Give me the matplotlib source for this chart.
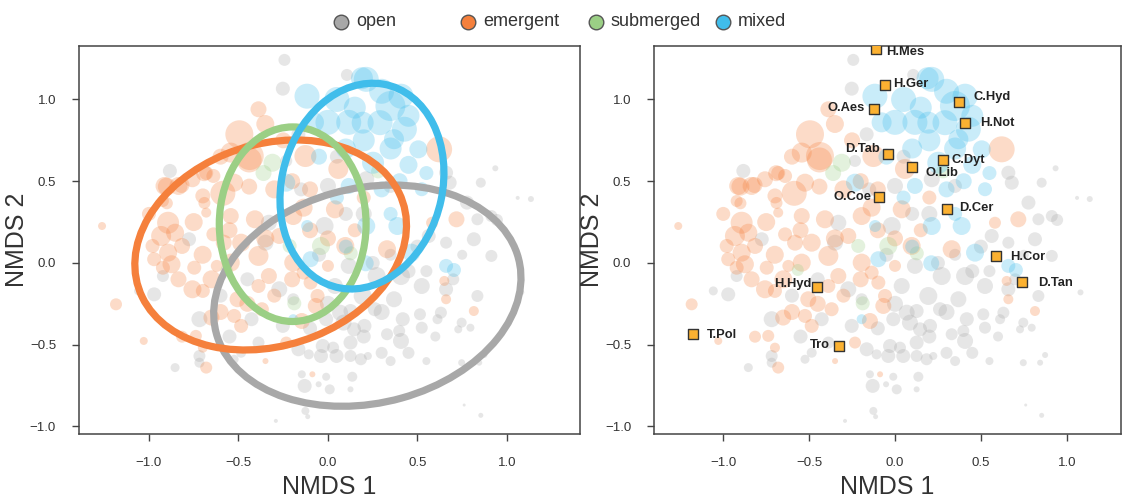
import numpy as np
import matplotlib
matplotlib.use("Agg")
import matplotlib.pyplot as plt
from matplotlib.patches import Ellipse
from matplotlib.lines import Line2D

plt.rcParams["font.family"] = ["Liberation Sans", "DejaVu Sans"]
plt.rcParams["axes.unicode_minus"] = True

# ---- site scores (NMDS1, NMDS2, taxon richness) by habitat type ----
open_x = [-0.243, -0.252, -0.165, -0.233, 0.106, -0.883, -0.776, -0.922, -1.058, -0.971,
          -0.330, 0.000, -0.019, -0.349, 0.116, -0.272, 0.039, -0.194,
          0.214, 0.349, 0.680, 0.854, 0.777, 0.835, 0.913, 0.563, 0.660, 0.815, 0.913,
          0.272, 0.408, 0.524, 0.660, 0.194, 0.369, 0.835,
          0.660, 0.935, 1.134, 1.060, 0.944,
          -0.718, -0.427, -0.252, -0.718, -0.718, -0.854, -0.524, -0.485, -0.291, -0.388,
          -0.010, 0.068, 0.126, 0.087, 0.146, 0.204, 0.262, 0.418, 0.514, 0.524, 0.330,
          0.408, 0.398, 0.631, 0.612, 0.747, 0.728, 0.796,
          -0.165, -0.039, 0.048, -0.029, 0.029, 0.126, 0.126, 0.184, 0.223, -0.107,
          -0.146, -0.010, -0.052, -0.130, 0.010, 0.136, 0.126, -0.126, -0.113,
          0.747, 0.874, 0.845, 0.761, 0.854, 1.080,
          0.250, 0.350, 0.450, 0.550, 0.500, 0.300, 0.200, 0.450, 0.600, 0.700,
          0.750, 0.100, 0.200, -0.050, -0.150, 0.050, 0.350, 0.550, 0.000, -0.100,
          0.300, -0.550, -0.600, -0.450]
open_y = [1.242, 1.066, 0.787, 0.624, 1.150, 0.563, 0.145, -0.080, -0.171, -0.192,
          0.246, 0.471, 0.226, 0.124, -0.018, -0.161, -0.141, -0.222,
          0.512, 0.471, 0.491, 0.491, 0.369, 0.267, 0.287, 0.165, 0.124, 0.145, 0.043,
          -0.080, -0.080, -0.141, -0.161, -0.202, -0.222, -0.202,
          0.552, 0.579, 0.391, 0.398, 0.263,
          -0.344, -0.344, -0.385, -0.569, -0.610, -0.640, -0.589, -0.549, -0.966, -0.487,
          -0.344, -0.304, -0.294, -0.365, -0.406, -0.385, -0.283, -0.344, -0.314, -0.396, -0.436,
          -0.477, -0.416, -0.304, -0.344, -0.365, -0.406, -0.396,
          -0.528, -0.569, -0.569, -0.508, -0.518, -0.487, -0.569, -0.589, -0.569, -0.559,
          -0.681, -0.696, -0.742, -0.752, -0.773, -0.696, -0.773, -0.905, -0.940,
          -0.610, -0.563, -0.610, -0.869, -0.932, -0.180,
          0.000, 0.050, -0.050, -0.050, 0.100, -0.300, -0.450, -0.550, -0.450, -0.100,
          0.050, 0.300, 0.300, 0.050, 0.450, 0.650, -0.600, -0.600, -0.250, -0.400,
          -0.550, -0.450, -0.200, -0.100]
open_rich = [12, 14, 14, 12, 12, 14, 14, 12, 9, 14,
             16, 16, 18, 16, 16, 16, 16, 12,
             16, 14, 14, 10, 14, 12, 12, 14, 12, 14, 12,
             18, 18, 16, 14, 18, 16, 12,
             14, 6, 6, 4, 12,
             16, 14, 14, 12, 10, 9, 9, 10, 4, 12,
             14, 16, 14, 16, 14, 14, 14, 14, 12, 12, 12,
             16, 12, 12, 10, 10, 8, 8,
             14, 14, 14, 14, 12, 14, 12, 12, 8, 10,
             8, 8, 6, 14, 10, 10, 6, 8, 5,
             7, 6, 6, 3, 5, 6,
             14, 12, 14, 12, 14, 16, 14, 12, 10, 12,
             10, 14, 16, 14, 14, 14, 10, 8, 16, 14,
             12, 14, 14, 14]

emergent_x = [-0.388, -0.495, -0.437, -0.543, -0.126, 0.058, 0.621, -0.680,
              -1.262, -0.913, -0.835, -0.757, -0.699, -0.922, -0.680, -0.640,
              -0.893, -0.932, -0.854, -0.980, -0.893, -0.815, -0.640, -0.621, -0.971, -0.874,
              -0.922, -0.747, -0.835, -0.757, -0.699, -1.184,
              -0.524, -0.408, -0.543, -0.194, -0.136, 0.039, -0.582, -0.485, -0.272, 0.097,
              -0.388, -0.194, 0.000, -0.543, -0.330, -0.136, -0.388, -0.097, -0.505, -0.058,
              0.718, 0.582, 0.330, 0.650, 0.660,
              -0.651, -0.524, -0.485, -0.369, -0.815, -0.738, -1.029, -0.699, -0.680, -0.349, -0.233,
              -0.146, -0.068, 0.815, -0.087,
              -0.440, -0.900, -0.818, -0.692, -0.587, -0.440, -0.900, -0.690,
              -0.300, -0.600, -0.200, -0.750, -0.550, -0.350, -0.100, -0.650, -0.450, -0.600,
              -0.300, -0.200, 0.150, 0.000, -1.000, -0.700, -0.250, -0.350, -0.100, 0.200]
emergent_y = [0.940, 0.787, 0.654, 0.675, 0.654, 0.575, 0.695, 0.550,
              0.226, 0.471, 0.471, 0.512, 0.410, 0.379, 0.308, 0.532,
              0.246, 0.165, 0.185, 0.104, 0.063, 0.104, 0.175, -0.018, 0.023, -0.008,
              -0.029, -0.029, -0.100, -0.161, -0.171, -0.253,
              0.491, 0.267, 0.287, 0.287, 0.338, 0.328, 0.124, 0.124, 0.165, 0.104,
              0.043, 0.002, -0.018, 0.002, -0.080, -0.059, -0.141, -0.120, -0.222, -0.202,
              0.267, 0.246, 0.084, -0.110, -0.222,
              -0.334, -0.324, -0.385, -0.283, -0.451, -0.446, -0.477, -0.518, -0.640, -0.600, -0.487,
              -0.355, -0.263, -0.294, -0.681,
              0.630, 0.467, 0.477, 0.549, 0.426, 0.467, 0.365, 0.367,
              0.450, 0.650, 0.500, 0.250, 0.200, 0.150, 0.200, -0.100, -0.250, -0.300,
              -0.200, -0.100, 0.200, 0.150, 0.300, 0.050, 0.750, 0.850, 0.450, 0.400]
emergent_rich = [16, 28, 28, 20, 22, 20, 26, 14,
                 8, 18, 18, 16, 15, 12, 10, 14,
                 22, 20, 18, 14, 18, 16, 14, 12, 14, 18,
                 14, 14, 16, 18, 14, 12,
                 18, 18, 16, 18, 18, 18, 16, 18, 16, 18,
                 20, 18, 12, 18, 16, 14, 14, 14, 16, 14,
                 16, 12, 18, 10, 10,
                 16, 14, 14, 14, 12, 12, 8, 10, 12, 6, 12,
                 16, 16, 10, 6,
                 25, 18, 16, 16, 25, 16, 12, 12,
                 18, 16, 16, 18, 16, 18, 16, 18, 16, 16,
                 14, 16, 14, 16, 14, 18, 16, 18, 16, 14]

submerged_x = [-0.310, -0.214, -0.039, -0.188, -0.566, 0.127, -0.360, 0.280]
submerged_y = [0.613, 0.104, 0.104, -0.247, -0.043, 0.059, 0.550, 0.560]
submerged_rich = [18, 14, 18, 14, 12, 14, 16, 14]

mixed_x = [-0.117, 0.000, 0.116, -0.078, 0.214, 0.349, 0.408, 0.291, 0.427, 0.369,
           0.505, 0.194, 0.252, 0.190, -0.233, -0.116, 0.116, -0.097, 0.524, 0.388,
           0.214, 0.466, 0.660, -0.194, 0.704, 0.211, 0.350, 0.100, 0.400,
           0.050, 0.300, 0.450, 0.150, 0.200, 0.450, 0.300, 0.050, 0.550, -0.050,
           0.350, 0.100]
mixed_y = [1.020, 0.860, 0.860, 0.860, 1.123, 0.960, 1.020, 0.858, 0.818, 0.757,
           0.695, 0.858, 0.613, 1.130, 0.491, 0.226, 0.471, 0.023, 0.451, 0.226,
           0.226, 0.063, -0.018, -0.344, -0.043, -0.002, 0.700, 0.700, 0.500,
           1.000, 1.050, 0.900, 0.950, 0.750, 0.600, 0.450, 0.400, 0.550, 0.650,
           0.300, 0.100]
mixed_rich = [25, 25, 25, 20, 25, 30, 25, 25, 25, 20,
              18, 22, 22, 22, 18, 12, 16, 16, 14, 18,
              18, 18, 14, 10, 14, 16, 22, 20, 16,
              25, 25, 22, 22, 22, 18, 16, 14, 14, 16,
              14, 14]

# ---- 95% ellipses per habitat: centre, axis lengths, rotation ----
ell_cx = [0.22, -0.32, -0.197, 0.19]
ell_cy = [-0.20, 0.11, 0.237, 0.47]
ell_w = [1.75, 1.57, 0.82, 1.27]
ell_h = [1.31, 1.22, 1.19, 0.90]
ell_ang = [17, 24, 0, 79]

# ---- species scores ----
species = ["H.Mes", "H.Ger", "O.Aes", "C.Hyd", "H.Not", "D.Tab", "O.Lib", "C.Dyt",
           "O.Coe", "D.Cer", "H.Cor", "D.Tan", "H.Hyd", "T.Pol", "Tro"]
sp_x = [-0.108, -0.056, -0.123, 0.374, 0.406, -0.040, 0.100, 0.278,
        -0.095, 0.303, 0.587, 0.739, -0.455, -1.177, -0.324]
sp_y = [1.307, 1.089, 0.942, 0.983, 0.854, 0.669, 0.589, 0.628,
        0.403, 0.328, 0.043, -0.117, -0.148, -0.435, -0.505]

habitats = ["open", "emergent", "submerged", "mixed"]
hab_cols = ["#A8A8A8", "#F5803C", "#9BCF85", "#40BDEB"]

# label offsets (points) and alignment for each species label
lab_off = {
    "H.Mes": (7, -2, "left"), "H.Ger": (5.7, 1, "left"), "O.Aes": (-6.8, 0.5, "right"),
    "C.Hyd": (10, 3.6, "left"), "H.Not": (10.8, 0.5, "left"), "D.Tab": (-5.7, 3.6, "right"),
    "O.Lib": (9.8, -4.8, "left"), "C.Dyt": (6, 0, "left"), "O.Coe": (-5.2, 0, "right"),
    "D.Cer": (9, 0.7, "left"), "H.Cor": (10.4, -1, "left"), "D.Tan": (12, -0.7, "left"),
    "H.Hyd": (-3.9, 2, "right"), "T.Pol": (10.4, -0.7, "left"), "Tro": (-6.5, 0.5, "right"),
}

sites = [(open_x, open_y, open_rich), (emergent_x, emergent_y, emergent_rich),
         (submerged_x, submerged_y, submerged_rich), (mixed_x, mixed_y, mixed_rich)]

W, H = 1125, 497
fig = plt.figure(figsize=(W / 100, H / 100), dpi=100)
ax1 = fig.add_axes([78.6 / W, 1 - 434.3 / H, (579.8 - 78.6) / W, (434.3 - 46) / H])
ax2 = fig.add_axes([653.7 / W, 1 - 434.3 / H, (1120.5 - 653.7) / W, (434.3 - 46) / H])


def draw_sites(ax):
    for (xs, ys, rs), col in zip(sites, hab_cols):
        s = (np.array(rs) * 0.72) ** 2
        ax.scatter(xs, ys, s=s, c=col, alpha=0.28, linewidths=0, zorder=2)


def style_axes(ax, xlim):
    ax.set_xlim(*xlim)
    ax.set_ylim(-1.048, 1.327)
    ticks = [-1.0, -0.5, 0.0, 0.5, 1.0]
    ax.set_xticks(ticks)
    ax.set_yticks(ticks)
    ax.set_xticklabels([f"{t:.1f}".replace("-", "\u2212") for t in ticks])
    ax.set_yticklabels([f"{t:.1f}".replace("-", "\u2212") for t in ticks])
    ax.tick_params(axis="both", direction="out", length=5, width=1, color="#444444",
                   labelsize=9.5, labelcolor="#333333")
    ax.tick_params(axis="x", pad=11)
    ax.tick_params(axis="y", pad=11.2)
    for sp in ax.spines.values():
        sp.set_color("#444444")
        sp.set_linewidth(1.1)
    ax.set_xlabel("NMDS 1", fontsize=18, color="#333333")
    ax.set_ylabel("NMDS 2", fontsize=18, color="#333333")


# left panel: sites with habitat ellipses
draw_sites(ax1)
for cx, cy, w, h, a, col in zip(ell_cx, ell_cy, ell_w, ell_h, ell_ang, hab_cols):
    ax1.add_patch(Ellipse((cx, cy), w, h, angle=a, fill=False, edgecolor=col,
                          linewidth=5.2, zorder=3))
style_axes(ax1, (-1.393, 1.407))
ax1.xaxis.set_label_coords(0.5, -0.105)
ax1.yaxis.set_label_coords(-0.099, 0.5)

# right panel: sites with species scores
draw_sites(ax2)
ax2.scatter(sp_x, sp_y, marker="s", s=62, c="#FBB131", edgecolors="#333333",
            linewidths=1.0, zorder=4)
for name, x, y in zip(species, sp_x, sp_y):
    dx, dy, ha = lab_off[name]
    ax2.annotate(name, (x, y), xytext=(dx, dy), textcoords="offset points",
                 ha=ha, va="center", fontsize=9.3, fontweight="bold", color="#222222",
                 zorder=5)
style_axes(ax2, (-1.405, 1.313))
ax2.xaxis.set_label_coords(0.5, -0.105)
ax2.yaxis.set_label_coords(-0.106, 0.5)

# legend across the top
leg_y = 1 - 21.5 / H
for i, (lab, col) in enumerate(zip(habitats, hab_cols)):
    mx = (341 + i * 127.3) / W
    fig.add_artist(Line2D([mx], [leg_y], marker="o", markersize=10.5, color=col,
                          markeredgecolor="#555555", markeredgewidth=1.0,
                          transform=fig.transFigure))
    fig.text(mx + 15 / W, leg_y, lab, fontsize=13, color="#333333",
             ha="left", va="center")

fig.savefig("out.png", dpi=100)
